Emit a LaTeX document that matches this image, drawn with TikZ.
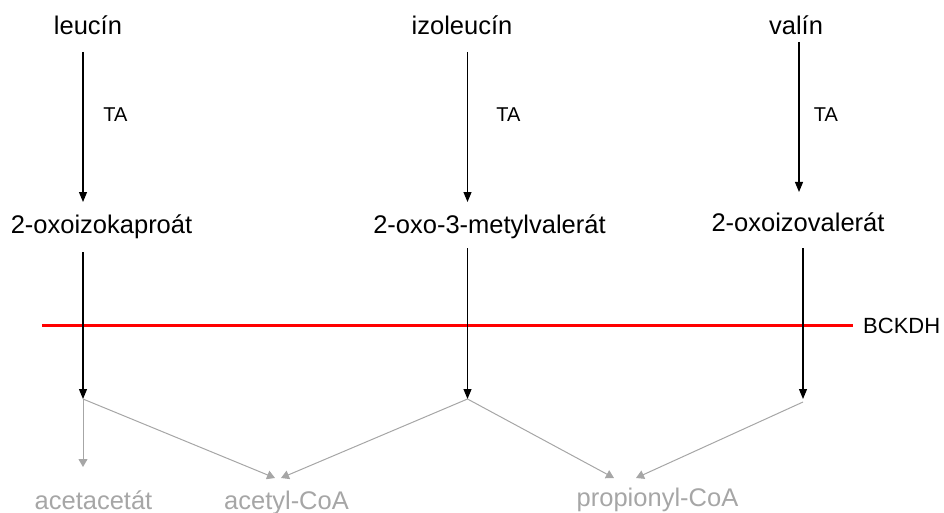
\documentclass[tikz,border=0pt]{standalone}
\usepackage{fontspec}
\setmainfont{Liberation Sans}
\usetikzlibrary{arrows.meta}
\definecolor{lgray}{HTML}{A6A6A6}
\definecolor{bred}{HTML}{FF0000}
\tikzset{
  mname/.style={inner sep=0pt, anchor=base, font=\fontsize{25.5}{30}\selectfont},
  gname/.style={mname, text=lgray},
  enz/.style={inner sep=0pt, anchor=base, font=\fontsize{20}{24}\selectfont},
  bck/.style={inner sep=0pt, anchor=base west, font=\fontsize{22}{26}\selectfont},
  blarrow/.style={draw=black, line width=1.1pt, -{Triangle[length=10pt,width=8pt]}},
  grarrow/.style={draw=lgray, line width=1pt, -{Triangle[length=8pt,width=9pt]}},
}
\begin{document}
\begin{tikzpicture}[x=1pt,y=-1pt]
\useasboundingbox (0,0) rectangle (944,513);
% top row
\node[mname] (leu) at (88,35) {leucín};
\node[mname] (ile) at (462,35) {izoleucín};
\node[mname] (val) at (796,35) {valín};
% middle row
\node[mname] (oic) at (101.5,233) {2-oxoizokaproát};
\node[mname] (omv) at (489.5,233) {2-oxo-3-metylvalerát};
\node[mname] (oiv) at (798,231) {2-oxoizovalerát};
% TA labels
\node[enz] (ta1) at (115.5,122) {TA};
\node[enz] (ta2) at (508.5,122) {TA};
\node[enz] (ta3) at (826,122) {TA};
% bottom row
\node[gname] (aca) at (93.5,509) {acetacetát};
\node[gname] (acc) at (286.5,509) {acetyl-CoA};
\node[gname] (prc) at (657.5,506) {propionyl-CoA};
% BCKDH
\node[bck] (bckdh) at (863,333) {BCKDH};
% coordinates
\coordinate (a1s) at (83,52);   \coordinate (a1e) at (83,202);
\coordinate (a2s) at (467.5,52); \coordinate (a2e) at (467.5,202);
\coordinate (a3s) at (799,42);  \coordinate (a3e) at (799,192);
\coordinate (b1s) at (83,252);  \coordinate (j1) at (83,399);
\coordinate (b2s) at (467.5,248); \coordinate (j2) at (467.5,399);
\coordinate (b3s) at (803,248); \coordinate (j3) at (803,399);
\coordinate (j3g) at (803,402);
\coordinate (t1) at (83,467);
\coordinate (t2) at (275,478); \coordinate (t3) at (281,478);
\coordinate (t4) at (614,478); \coordinate (t5) at (636,478);
\coordinate (rl) at (42,325.5); \coordinate (rr) at (853,325.5);
% red line
\draw[bred, line width=2.2pt] (rl) -- (rr);
% black arrows
\draw[blarrow] (a1s) -- (a1e);
\draw[blarrow] (a2s) -- (a2e);
\draw[blarrow] (a3s) -- (a3e);
\draw[blarrow] (b1s) -- (j1);
\draw[blarrow] (b2s) -- (j2);
\draw[blarrow] (b3s) -- (j3);
% gray arrows
\draw[grarrow] (j1) -- (t1);
\draw[grarrow] (j1) -- (t2);
\draw[grarrow] (j2) -- (t3);
\draw[grarrow] (j2) -- (t4);
\draw[grarrow] (j3g) -- (t5);
\end{tikzpicture}
\end{document}
